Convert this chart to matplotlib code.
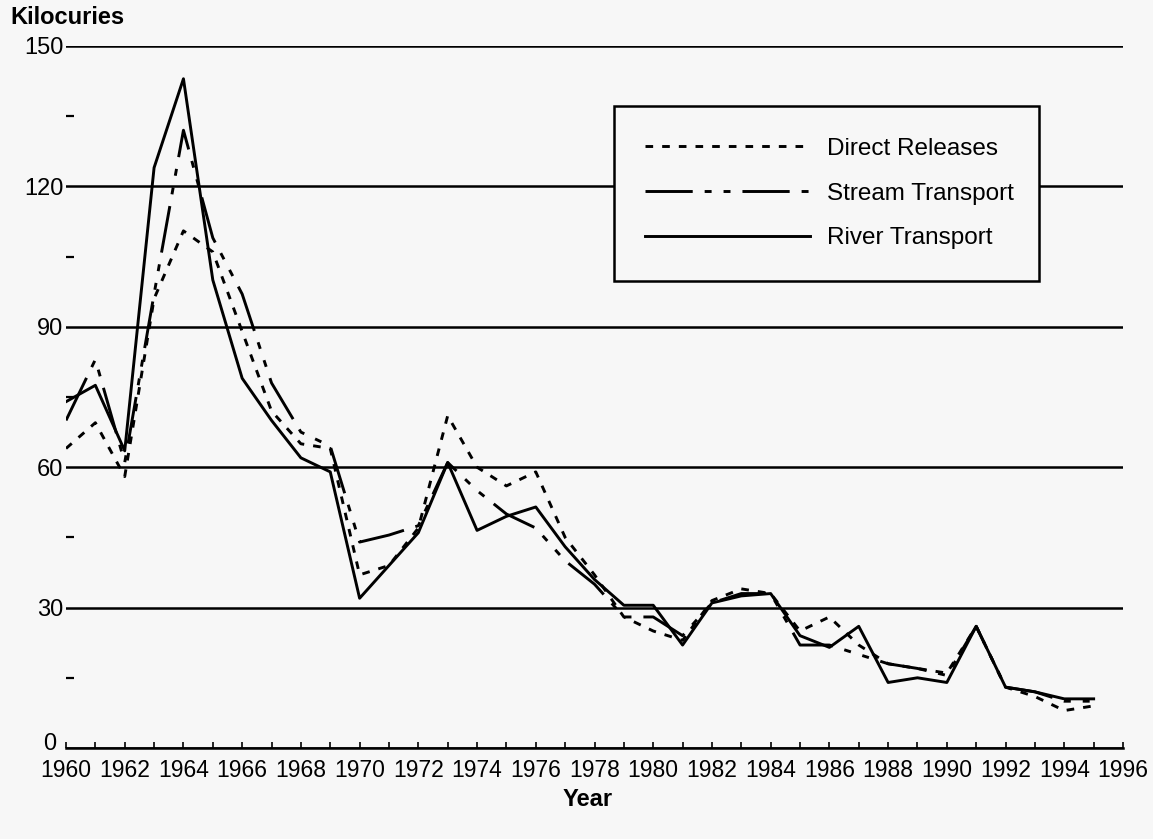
import matplotlib
matplotlib.use('Agg')
import matplotlib.pyplot as plt
from matplotlib.ticker import FixedLocator

plt.rcParams['font.family'] = ['Liberation Sans', 'DejaVu Sans']
plt.rcParams['lines.scale_dashes'] = False

years = list(range(1960, 1996))
direct = [64, 69.5, 58, 96, 110.5, 106, 89, 72, 65, 64,
          37, 39, 47, 71, 60, 56, 59, 45, 37, 28,
          25, 23, 31.5, 34, 33, 25, 28, 22, 18, 17,
          16, 26, 13, 11, 8, 9]
stream = [70, 83, 61, 97, 132, 109, 97, 78, 67.5, 64.5,
          44, 45.5, 47.5, 61, 55, 50, 47, 40, 35, 28,
          28, 24, 31, 33, 33, 22, 22, 20, 18, 17,
          15.5, 26, 13, 12, 10, 10]
river = [74, 77.5, 63.5, 124, 143, 100, 79, 70, 62, 59,
         32, 39, 46, 61, 46.5, 49.5, 51.5, 43, 36, 30.5,
         30.5, 22, 31, 32.5, 33, 24, 21.5, 26, 14, 15,
         14, 26, 13, 12, 10.5, 10.5]

series_names = ['Direct Releases', 'Stream Transport', 'River Transport']
y_ticks = [0, 30, 60, 90, 120, 150]
y_minor = [15, 45, 75, 105, 135]
x_major = list(range(1960, 1997, 2))
x_minor = list(range(1960, 1997))

bg = '#f7f7f7'
W, H = 1153, 839
fig = plt.figure(figsize=(W / 100, H / 100), dpi=100, facecolor=bg)
left, right, top, bottom = 66, 1123, 46, 748
ax = fig.add_axes([left / W, 1 - bottom / H, (right - left) / W, (bottom - top) / H])
ax.set_facecolor(bg)

lw = 2.1
ax.plot(years, direct, color='black', lw=lw, dashes=(5.5, 6.5), label=series_names[0], zorder=3)
ax.plot(years, stream, color='black', lw=lw, dashes=(34, 8.6, 5, 8.6, 5, 8.6), label=series_names[1], zorder=3)
ax.plot(years, river, color='black', lw=lw, label=series_names[2], zorder=3)

ax.set_xlim(1960, 1996)
ax.set_ylim(0, 150)

for s in ['top', 'right', 'left']:
    ax.spines[s].set_visible(False)
ax.spines['bottom'].set_linewidth(1.8)

ax.yaxis.set_major_locator(FixedLocator(y_ticks))
ax.yaxis.set_minor_locator(FixedLocator(y_minor))
ax.set_yticklabels([''] + [str(v) for v in y_ticks[1:]], fontsize=17)
ax.tick_params(axis='y', which='major', length=0, pad=2)
ax.tick_params(axis='y', which='minor', direction='in', length=5.5, width=1.6)
ax.grid(axis='y', which='major', color='black', lw=1.8, zorder=1)
ax.set_axisbelow(True)
# zero label sits a little left of and above the axis start, as in the reference
ax.annotate(str(y_ticks[0]), xy=(0, y_ticks[0]), xycoords=('axes fraction', 'data'),
            xytext=(-7, 3), textcoords='offset points', ha='right', va='center',
            fontsize=17)

ax.xaxis.set_major_locator(FixedLocator(x_major))
ax.xaxis.set_minor_locator(FixedLocator(x_minor))
ax.set_xticklabels([str(v) for v in x_major], fontsize=16.5)
ax.tick_params(axis='x', which='both', direction='in', length=4, width=1.2, pad=8)

leg = ax.legend(loc='upper left', bbox_to_anchor=(0.518, 0.914, 0.403, 0.0),
                mode='expand', borderaxespad=0, fontsize=17.5, handlelength=6.8,
                handletextpad=0.7, labelspacing=0.93, borderpad=1.3, fancybox=False,
                edgecolor='black', facecolor=bg, framealpha=1)
leg.get_frame().set_linewidth(1.8)
leg.set_zorder(5)

fig.text(10 / W, 1 - 18 / H, 'Kilocuries', fontsize=17, fontweight='bold', ha='left', va='center')
fig.text(588 / W, 1 - 800 / H, 'Year', fontsize=17, fontweight='bold', ha='center', va='center')

fig.savefig('out.png', dpi=100, facecolor=bg)
